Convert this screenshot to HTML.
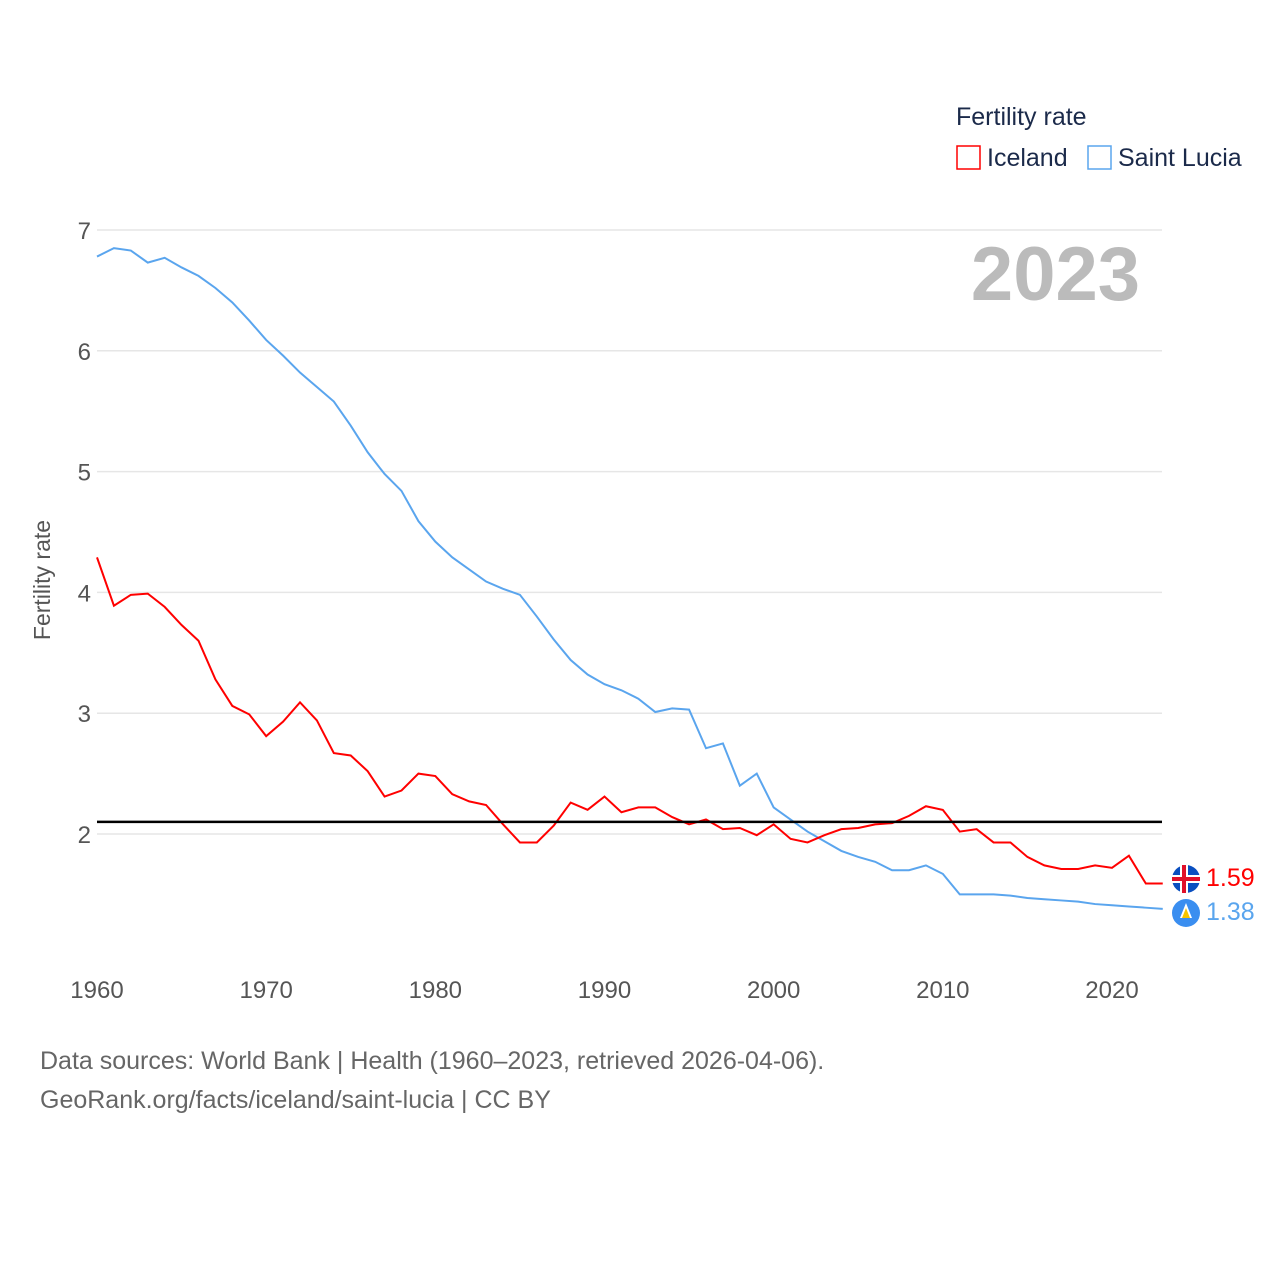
<!DOCTYPE html>
<html><head><meta charset="utf-8"><style>
body{margin:0;background:#fff;width:1280px;height:1280px;overflow:hidden;font-family:"Liberation Sans",sans-serif}
</style></head><body>
<svg id="chart" width="1280" height="1280" xmlns="http://www.w3.org/2000/svg" font-family="Liberation Sans, sans-serif">
<g id="grid"></g>
<text transform="translate(50,580) rotate(-90)" text-anchor="middle" font-size="23" fill="#555">Fertility rate</text>
<text x="1140" y="300" text-anchor="end" font-size="76" font-weight="bold" fill="#bbb">2023</text>
<g>
<text x="956" y="125" font-size="25" fill="#1b2a4a">Fertility rate</text>
<rect x="957" y="146" width="23" height="23" fill="none" stroke="#f00" stroke-width="1.5"/>
<text x="987" y="166" font-size="25" fill="#1b2a4a">Iceland</text>
<rect x="1088" y="146" width="23" height="23" fill="none" stroke="#5aa5ee" stroke-width="1.5"/>
<text x="1118" y="166" font-size="25" fill="#1b2a4a">Saint Lucia</text>
</g>
<g id="series"></g>
<g>
<circle cx="1186" cy="879" r="14" fill="#0a4fc0"/>
<rect x="1172" y="875" width="28" height="8" fill="#fff"/>
<rect x="1180" y="865" width="8" height="28" fill="#fff"/>
<rect x="1172" y="877" width="28" height="4" fill="#e0102a"/>
<rect x="1182" y="865" width="4" height="28" fill="#e0102a"/>
<circle cx="1186" cy="913" r="14" fill="#3a8ef0"/>
<polygon points="1186,903 1180,918 1192,918" fill="#fff"/>
<polygon points="1186,908 1182,918 1190,918" fill="#f5c400"/>
<text x="1206" y="886" font-size="25" fill="#f00">1.59</text>
<text x="1206" y="920" font-size="25" fill="#5aa5ee">1.38</text>
</g>
<text x="40" y="1069" font-size="25" fill="#666">Data sources: World Bank | Health (1960–2023, retrieved 2026-04-06).</text>
<text x="40" y="1108" font-size="25" fill="#666">GeoRank.org/facts/iceland/saint-lucia | CC BY</text>
</svg>
<script>
const startYear = 1960;
const xTicks = [1960,1970,1980,1990,2000,2010,2020];
const yTicks = [2,3,4,5,6,7];
const iceland = [4.29,3.89,3.98,3.99,3.88,3.73,3.60,3.28,3.06,2.99,2.81,2.93,3.09,2.94,2.67,2.65,2.52,2.31,2.36,2.50,2.48,2.33,2.27,2.24,2.08,1.93,1.93,2.07,2.26,2.20,2.31,2.18,2.22,2.22,2.14,2.08,2.12,2.04,2.05,1.99,2.08,1.96,1.93,1.99,2.04,2.05,2.08,2.09,2.15,2.23,2.20,2.02,2.04,1.93,1.93,1.81,1.74,1.71,1.71,1.74,1.72,1.82,1.59,1.59];
const saintLucia = [6.78,6.85,6.83,6.73,6.77,6.69,6.62,6.52,6.40,6.25,6.09,5.96,5.82,5.70,5.58,5.38,5.16,4.98,4.84,4.59,4.42,4.29,4.19,4.09,4.03,3.98,3.80,3.61,3.44,3.32,3.24,3.19,3.12,3.01,3.04,3.03,2.71,2.75,2.40,2.50,2.22,2.12,2.02,1.94,1.86,1.81,1.77,1.70,1.70,1.74,1.67,1.50,1.50,1.50,1.49,1.47,1.46,1.45,1.44,1.42,1.41,1.40,1.39,1.38];
const replacementRate = [2.1];
const NS="http://www.w3.org/2000/svg";
const x = yr => 97 + (yr-1960)*(1112-97)/60;
const y = v => 834 - (v-2)*(834-230)/5;
const grid=document.getElementById('grid'), series=document.getElementById('series');
yTicks.forEach(t=>{
  const l=document.createElementNS(NS,'line');
  
  
  l.setAttribute('x1',97);l.setAttribute('x2',1162);l.setAttribute('y1',y(t));l.setAttribute('y2',y(t));
  l.setAttribute('stroke','#e6e6e6');l.setAttribute('stroke-width','1.5');grid.appendChild(l);
  const tx=document.createElementNS(NS,'text');
  
  
  tx.setAttribute('x',91);tx.setAttribute('y',y(t)+9);tx.setAttribute('text-anchor','end');
  tx.setAttribute('font-size','24');tx.setAttribute('fill','#555');tx.textContent=t;grid.appendChild(tx);
});
xTicks.forEach(t=>{
  const tx=document.createElementNS(NS,'text');
  
  
  tx.setAttribute('x',x(t));tx.setAttribute('y',998);tx.setAttribute('text-anchor','middle');
  tx.setAttribute('font-size','24');tx.setAttribute('fill','#555');tx.textContent=t;grid.appendChild(tx);
});
function line(vals,color,name){
  const p=document.createElementNS(NS,'polyline');
  
  
  p.setAttribute('points',vals.map((v,i)=>x(startYear+i)+','+y(v)).join(' '));
  p.setAttribute('fill','none');p.setAttribute('stroke',color);p.setAttribute('stroke-width','2');
  series.appendChild(p);
}
line(saintLucia,'#5aa5ee','saint-lucia-line');
line(iceland,'#f00','iceland-line');
const r=document.createElementNS(NS,'line');


r.setAttribute('x1',97);r.setAttribute('x2',1162);r.setAttribute('y1',y(replacementRate[0]));r.setAttribute('y2',y(replacementRate[0]));
r.setAttribute('stroke','#000');r.setAttribute('stroke-width','2.5');series.appendChild(r);
</script>
</body></html>
